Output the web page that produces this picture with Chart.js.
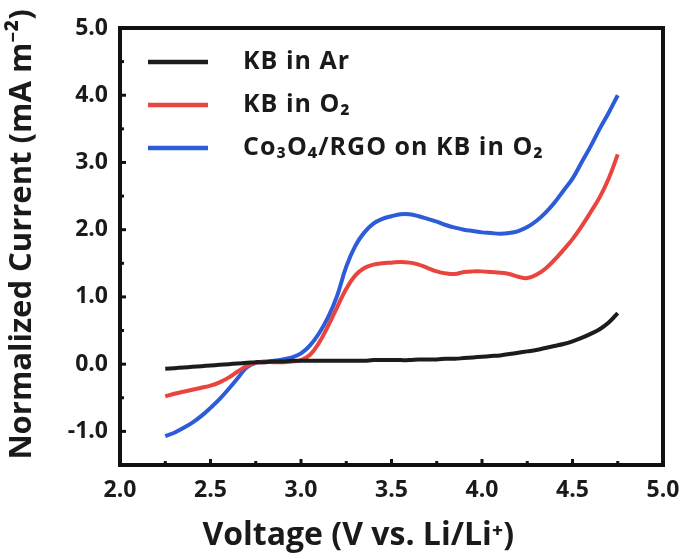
<!DOCTYPE html>
<html>
<head>
<meta charset="utf-8">
<script src="https://cdn.jsdelivr.net/npm/chart.js@4.4.0/dist/chart.umd.min.js"></script>
<style>
  html, body { margin: 0; padding: 0; background: #fff; }
  #wrap { width: 688px; height: 559px; }
</style>
</head>
<body>
<div id="wrap"><canvas id="chart" width="688" height="559"></canvas></div>
<script>
// voltage grid (V vs. Li/Li+)
const voltage = [2.25,2.30,2.35,2.40,2.45,2.50,2.55,2.60,2.65,2.70,2.75,2.80,2.85,2.90,2.95,
  3.00,3.05,3.10,3.15,3.20,3.25,3.30,3.35,3.40,3.45,3.50,3.55,3.60,3.65,3.70,3.75,3.80,3.85,3.90,3.95,
  4.00,4.05,4.10,4.15,4.20,4.25,4.30,4.35,4.40,4.45,4.50,4.55,4.60,4.65,4.70,4.75];

const kbAr = [-0.07,-0.06,-0.05,-0.04,-0.03,-0.02,-0.01,0.00,0.01,0.02,0.03,0.03,0.04,0.04,0.05,
  0.05,0.05,0.05,0.05,0.05,0.05,0.05,0.05,0.06,0.06,0.06,0.06,0.06,0.07,0.07,0.07,0.08,0.08,0.09,0.10,
  0.11,0.12,0.13,0.15,0.17,0.19,0.21,0.24,0.27,0.30,0.34,0.39,0.45,0.52,0.62,0.76];

const kbO2 = [-0.48,-0.44,-0.41,-0.38,-0.35,-0.32,-0.27,-0.20,-0.11,-0.03,0.02,0.03,0.03,0.03,0.04,
  0.06,0.14,0.32,0.57,0.85,1.12,1.32,1.43,1.48,1.50,1.51,1.52,1.51,1.48,1.43,1.38,1.35,1.34,1.37,1.38,
  1.38,1.37,1.36,1.34,1.30,1.28,1.33,1.42,1.55,1.70,1.86,2.05,2.26,2.48,2.76,3.12];

const coRgoO2 = [-1.07,-1.02,-0.95,-0.87,-0.77,-0.65,-0.52,-0.37,-0.21,-0.05,0.02,0.04,0.05,0.07,0.10,
  0.16,0.28,0.46,0.70,1.02,1.45,1.76,1.96,2.09,2.16,2.20,2.23,2.23,2.20,2.16,2.12,2.07,2.03,2.00,1.98,
  1.96,1.95,1.94,1.95,1.98,2.04,2.13,2.25,2.40,2.58,2.76,3.00,3.24,3.50,3.74,4.00];

const seriesNames = ['KB in Ar', 'KB in O\u2082', 'Co\u2083O\u2084/RGO on KB in O\u2082'];
const seriesColors = ['#1c1c1c', '#e9443d', '#2c5cd8'];

const FONT = "'Open Sans', 'Noto Sans', sans-serif";

function toPoints(ys) {
  return voltage.map((v, i) => ({ x: v, y: ys[i] }));
}

// thick black frame around the plot
const frame = {
  id: 'frame',
  afterDraw(chart) {
    const a = chart.chartArea, c = chart.ctx;
    c.save();
    c.strokeStyle = '#111';
    c.lineWidth = 4;
    c.strokeRect(a.left, a.top, a.right - a.left, a.bottom - a.top);
    c.restore();
  }
};

// inward tick marks
const innerTicks = {
  id: 'innerTicks',
  afterDraw(chart) {
    const c = chart.ctx, a = chart.chartArea;
    c.save();
    c.strokeStyle = '#111';
    c.lineWidth = 3;
    const xs = chart.scales.x, ys = chart.scales.y;
    xs.ticks.forEach(t => {
      const px = xs.getPixelForValue(t.value);
      const len = Math.abs(t.value * 2 - Math.round(t.value * 2)) < 1e-6 ? 6 : 4;
      c.beginPath(); c.moveTo(px, a.bottom); c.lineTo(px, a.bottom - len); c.stroke();
    });
    ys.ticks.forEach(t => {
      const py = ys.getPixelForValue(t.value);
      const len = Math.abs(t.value - Math.round(t.value)) < 1e-6 ? 6 : 4;
      c.beginPath(); c.moveTo(a.left, py); c.lineTo(a.left + len, py); c.stroke();
    });
    c.restore();
  }
};

// legend inside the plot, top-left
const innerLegend = {
  id: 'innerLegend',
  afterDraw(chart) {
    const c = chart.ctx, a = chart.chartArea;
    c.save();
    c.font = 'bold 25px ' + FONT;
    c.letterSpacing = '1px';
    c.textBaseline = 'middle';
    c.fillStyle = '#1a1a1a';
    chart.data.datasets.forEach((ds, i) => {
      const y = a.top + 34 + i * 43;
      c.strokeStyle = ds.borderColor;
      c.lineWidth = 4.5;
      c.beginPath(); c.moveTo(a.left + 28, y); c.lineTo(a.left + 88, y); c.stroke();
      c.fillText(ds.label, a.left + 123, y);
    });
    c.restore();
  }
};

new Chart(document.getElementById('chart'), {
  type: 'line',
  data: {
    datasets: [kbAr, kbO2, coRgoO2].map((ys, i) => ({
      label: seriesNames[i],
      data: toPoints(ys),
      borderColor: seriesColors[i],
      borderWidth: 4,
      pointRadius: 0,
      tension: 0.4,
      fill: false
    }))
  },
  options: {
    responsive: false,
    animation: false,
    layout: { padding: { top: 28, right: 25, left: 0, bottom: 0 } },
    plugins: { legend: { display: false }, tooltip: { enabled: false } },
    scales: {
      x: {
        type: 'linear',
        min: 2.0, max: 5.0,
        grid: { display: false },
        border: { display: false },
        ticks: {
          stepSize: 0.25,
          autoSkip: false,
          maxRotation: 0,
          padding: 4,
          color: '#1a1a1a',
          font: { family: FONT, size: 23, weight: 'bold' },
          callback: v => (Math.abs(v * 2 - Math.round(v * 2)) < 1e-6 ? v.toFixed(1) : '')
        },
        title: {
          display: true,
          text: 'Voltage (V vs. Li/Li\u207A)        ',
          color: '#1a1a1a',
          font: { family: FONT, size: 32, weight: 'bold' },
          padding: { top: 4 }
        },
        afterFit(scale) { scale.height = 94; }
      },
      y: {
        min: -1.5, max: 5.0,
        grid: { display: false },
        border: { display: false },
        ticks: {
          stepSize: 0.5,
          autoSkip: false,
          padding: 4,
          color: '#1a1a1a',
          font: { family: FONT, size: 23, weight: 'bold' },
          callback: v => (Math.abs(v - Math.round(v)) < 1e-6 ? v.toFixed(1) : '')
        },
        title: {
          display: true,
          text: '   Normalized Current (mA m\u207B\u00B2)',
          color: '#1a1a1a',
          font: { family: FONT, size: 31, weight: 'bold' },
          padding: { bottom: 0 }
        },
        afterFit(scale) { scale.width = 120; }
      }
    }
  },
  plugins: [frame, innerTicks, innerLegend]
});
</script>
</body>
</html>
